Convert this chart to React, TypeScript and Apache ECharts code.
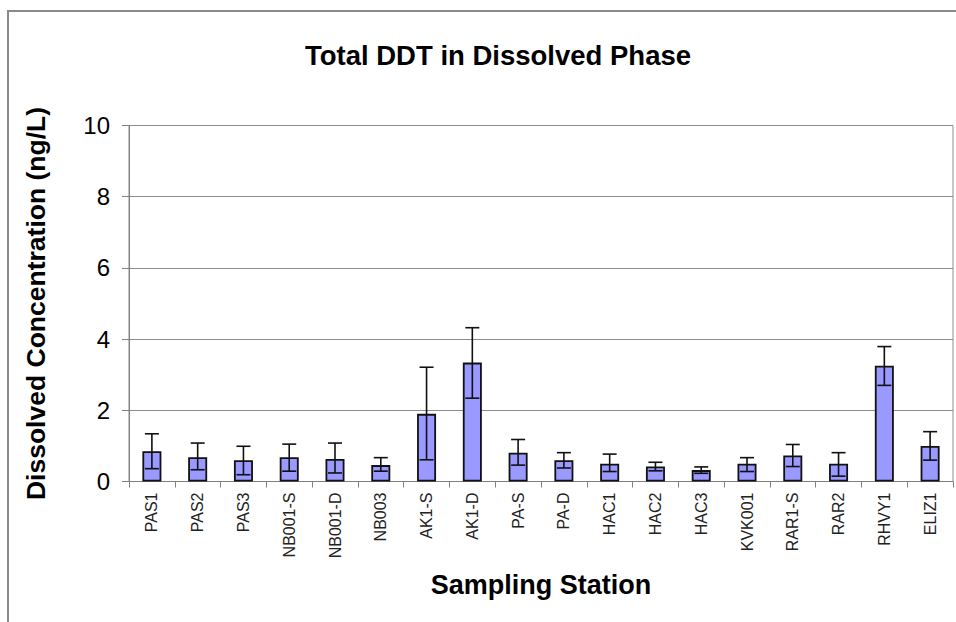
import React, { useEffect, useRef } from "react";
import * as echarts from "echarts";

const stations = ["PAS1", "PAS2", "PAS3", "NB001-S", "NB001-D", "NB003", "AK1-S", "AK1-D", "PA-S", "PA-D", "HAC1", "HAC2", "HAC3", "KVK001", "RAR1-S", "RAR2", "RHVY1", "ELIZ1"];
const meanValues = [0.85, 0.68, 0.6, 0.68, 0.63, 0.46, 1.9, 3.34, 0.81, 0.6, 0.5, 0.42, 0.32, 0.5, 0.73, 0.5, 3.25, 1.0];
const errorLow = [0.36, 0.33, 0.19, 0.29, 0.24, 0.29, 0.61, 2.34, 0.46, 0.38, 0.28, 0.3, 0.23, 0.28, 0.42, 0.15, 2.7, 0.6];
const errorHigh = [1.34, 1.08, 0.99, 1.05, 1.08, 0.67, 3.21, 4.32, 1.18, 0.81, 0.77, 0.54, 0.41, 0.67, 1.04, 0.81, 3.79, 1.4];
const yTicks = [0, 2, 4, 6, 8, 10];

const FONT = "'Liberation Sans', Arial, Helvetica, sans-serif";

export default function App() {
  const ref = useRef<HTMLDivElement>(null);
  useEffect(() => {
    if (!ref.current) return;
    const chart = echarts.init(ref.current, null, { renderer: "svg" });
    const errData = stations.map((_, i) => [i, errorLow[i], errorHigh[i]]);
    chart.setOption({
      animation: false,
      backgroundColor: "#ffffff",
      textStyle: { fontFamily: FONT },
      title: {
        text: "Total DDT in Dissolved Phase",
        left: 493,
        textAlign: "center",
        top: 36,
        textStyle: { fontFamily: FONT, fontSize: 27.5, fontWeight: "bold", color: "#000" },
      },
      graphic: [
        {
          type: "rect",
          shape: { x: 8, y: 11, width: 1000, height: 700 },
          style: { fill: "none", stroke: "#8a8a8a", lineWidth: 2 },
          silent: true,
        },
      ],
      grid: {
        left: 129,
        top: 125.5,
        right: 3,
        bottom: 140.5,
        show: true,
        borderColor: "#8c8c8c",
        borderWidth: 1,
        backgroundColor: "#ffffff",
      },
      xAxis: {
        type: "category",
        data: stations,
        name: "Sampling Station",
        nameLocation: "middle",
        nameGap: 90,
        nameTextStyle: { fontFamily: FONT, fontSize: 27, fontWeight: "bold", color: "#000" },
        axisLine: { show: true, lineStyle: { color: "#808080", width: 1 } },
        axisTick: { show: true, alignWithLabel: false, length: 6, lineStyle: { color: "#808080" } },
        axisLabel: { rotate: 90, fontSize: 16, margin: 11, color: "#222", fontFamily: FONT, interval: 0 },
        splitLine: { show: false },
      },
      yAxis: {
        type: "value",
        min: yTicks[0],
        max: yTicks[yTicks.length - 1],
        interval: 2,
        name: "Dissolved Concentration (ng/L)",
        nameLocation: "middle",
        nameGap: 80,
        nameTextStyle: { fontFamily: FONT, fontSize: 26.5, fontWeight: "bold", color: "#000" },
        axisLine: { show: true, lineStyle: { color: "#808080", width: 1 } },
        axisTick: { show: true, length: 7, lineStyle: { color: "#808080" } },
        axisLabel: { fontSize: 24, margin: 19, color: "#000", fontFamily: FONT },
        splitLine: { show: true, lineStyle: { color: "#8c8c8c", width: 1 } },
      },
      series: [
        {
          type: "bar",
          data: meanValues,
          barWidth: 19,
          itemStyle: { color: "#9999ff", borderColor: "#111", borderWidth: 1.8 },
        },
        {
          type: "custom",
          data: errData,
          z: 10,
          renderItem: (params: any, api: any) => {
            const i = api.value(0);
            const lo = api.coord([i, api.value(1)]);
            const hi = api.coord([i, api.value(2)]);
            const half = 7;
            const st = { stroke: "#111", lineWidth: 1.6 };
            return {
              type: "group",
              children: [
                { type: "line", shape: { x1: lo[0], y1: lo[1], x2: hi[0], y2: hi[1] }, style: st },
                { type: "line", shape: { x1: lo[0] - half, y1: lo[1], x2: lo[0] + half, y2: lo[1] }, style: st },
                { type: "line", shape: { x1: hi[0] - half, y1: hi[1], x2: hi[0] + half, y2: hi[1] }, style: st },
              ],
            };
          },
        },
      ],
    });
    return () => chart.dispose();
  }, []);
  return (
    <div
      ref={ref}
      style={{ position: "fixed", left: 0, top: 0, width: 956, height: 622 }}
    />
  );
}
